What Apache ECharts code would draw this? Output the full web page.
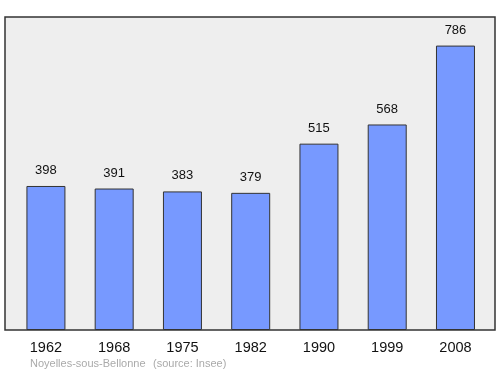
<!DOCTYPE html>
<html><head><meta charset="utf-8">
<script src="https://cdn.jsdelivr.net/npm/echarts@6/dist/echarts.min.js"></script>
<style>html,body{margin:0;padding:0;background:#fff}#c{width:500px;height:374px}</style>
</head><body><div id="c"></div>
<script>
const categories = ['1962','1968','1975','1982','1990','1999','2008'];
const population = [398, 391, 383, 379, 515, 568, 786];
const town = 'Noyelles-sous-Bellonne';
const source = '(source: Insee)';

const chart = echarts.init(document.getElementById('c'));
chart.setOption({
  animation: false,
  graphic: [
    {type:'rect', shape:{x:5,y:17,width:490,height:313}, style:{fill:'#eeeeee', stroke:'#333', lineWidth:1.5}, z:-10},
    {type:'text', left:30, top:358, style:{text:town, fill:'#aaaaaa', font:'11px "Liberation Sans", Arial, sans-serif'}},
    {type:'text', left:153, top:358, style:{text:source, fill:'#aaaaaa', font:'11px "Liberation Sans", Arial, sans-serif'}}
  ],
  grid: {left:11.8, right:10.4, top:17, bottom:44},
  xAxis: {
    type:'category', data:categories,
    axisLine:{show:false}, axisTick:{show:false},
    axisLabel:{color:'#111', fontSize:14.5, margin:10, fontFamily:'Liberation Sans'}
  },
  yAxis: {type:'value', min:0, max:865, show:false, splitLine:{show:false}},
  series: [{
    type:'bar', data:population, barWidth:39,
    itemStyle:{color:'#7799ff', borderColor:'#333', borderWidth:1},
    label:{show:true, position:'top', distance:9, color:'#111', fontSize:13, fontFamily:'Liberation Sans'}
  }]
});
</script></body></html>
